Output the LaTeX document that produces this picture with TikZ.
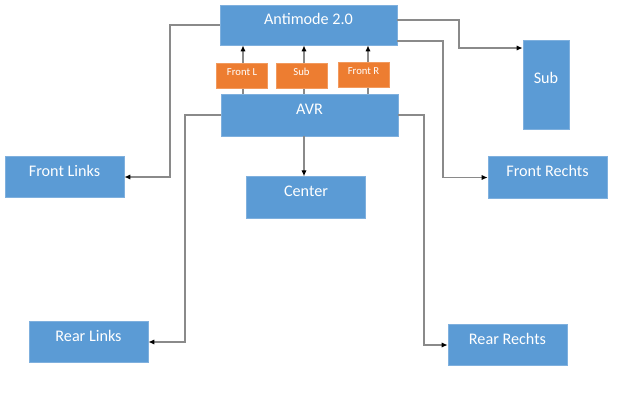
\documentclass[tikz,border=0pt]{standalone}
\usepackage{fontspec}
\setmainfont{Carlito}
\usetikzlibrary{arrows.meta}
\definecolor{boxblue}{HTML}{5B9BD5}
\definecolor{edgeblue}{HTML}{7FB0DE}
\definecolor{boxorange}{HTML}{ED7D31}
\definecolor{edgeorange}{HTML}{F29A5E}
\definecolor{linegray}{HTML}{8A8A8A}

\begin{document}
\begin{tikzpicture}[x=0.025cm,y=-0.025cm,
 unit/.style={draw=edgeblue,fill=boxblue,text=white,line width=0.5pt,align=center,inner sep=0pt,text height=7pt,text depth=8pt,font=\fontsize{11.5}{13}\selectfont},
 wide/.style={unit,minimum width=2.975cm,minimum height=1.04cm},
 tag/.style={draw=edgeorange,fill=boxorange,text=white,line width=0.5pt,inner sep=0pt,minimum width=1.27cm,minimum height=0.625cm,text height=5pt,text depth=5.5pt,font=\fontsize{7.6}{8.5}\selectfont},
 l/.style={line width=0.75pt,draw=linegray},
 a/.style={l,-{Latex[length=1.5mm,width=1.3mm,color=black]}}]
\useasboundingbox (0,0) rectangle (640,416);

\node[unit,minimum width=4.425cm,minimum height=1cm] (anti) at (308.5,25) {Antimode 2.0};
\node[unit,minimum width=4.425cm,minimum height=1.05cm] (avr) at (309.5,115) {AVR};
\node[wide] (center) at (306,197.5) {Center};
\node[unit,minimum width=1.15cm,minimum height=2.225cm] (sub) at (546,84.5) {Sub};
\node[wide] (frechts) at (547.5,177.5) {Front Rechts};
\node[wide] (rrechts) at (507.5,345) {Rear Rechts};
\node[wide] (flinks) at (64.5,177) {Front Links};
\node[wide] (rlinks) at (88.5,342) {Rear Links};

% AVR -> Antimode via the three outputs
\draw[l] (avr.north -| 243,0) -- (243,75.5);
\draw[l] (avr.north -| 304,0) -- (304,75.5);
\draw[l] (avr.north -| 368,0) -- (368,75);
\node[tag] (outl) at (242,75.5) {Front L};
\node[tag] (outs) at (301.5,75.5) {Sub};
\node[tag] (outr) at (363.5,74.5) {Front R};
\draw[a] (outl.north -| 243,0) -- (anti.south -| 243,0);
\draw[a] (outs.north -| 304,0) -- (anti.south -| 304,0);
\draw[a] (outr.north -| 368,0) -- (anti.south -| 368,0);

\draw[a] (avr.south -| 304,0) -- (center.north -| 304,0);

% Antimode outputs
\draw[a] ([yshift=0.125cm]anti.east) -| (459,48) -- (sub.west |- 459,48);
\draw[a] ([yshift=-0.4cm]anti.east) -| (frechts.west -| 443,0) -- (frechts.west);
\draw[a] (anti.west) -| (flinks.east -| 170,0) -- (flinks.east);

% AVR outputs
\draw[a] (avr.east) -| (rrechts.west -| 424,0) -- (rrechts.west);
\draw[a] (avr.west) -| (rlinks.east -| 185,0) -- (rlinks.east);
\end{tikzpicture}
\end{document}
